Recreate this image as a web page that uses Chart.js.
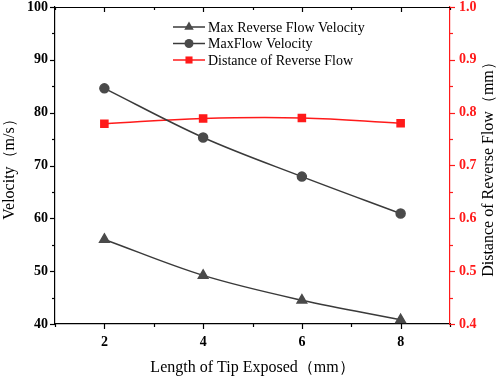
<!DOCTYPE html>
<html>
<head>
<meta charset="utf-8">
<script src="https://cdn.jsdelivr.net/npm/chart.js@4"></script>
<style>
  body { margin: 0; background: #fff; }
  #wrap { width: 498px; height: 377px; }
</style>
</head>
<body>
<div id="wrap"><canvas id="myChart" width="498" height="377"></canvas></div>
<script>
// data
const tipLength = [2, 4, 6, 8];
const maxReverseVelocity = [56.0, 49.2, 44.5, 40.8];
const maxFlowVelocity = [84.6, 75.3, 67.9, 60.9];
const reverseDistance = [0.779, 0.789, 0.790, 0.780];
const xTicks = [2, 4, 6, 8];

const serif = '"Liberation Serif", "Times New Roman", serif';
const red = '#ff1a1a';
const dark = '#3a3a3a';

function pts(ys) {
    return tipLength.map((x, i) => ({x: x, y: ys[i]}));
}

// ticks (major + minor) and the frame, like the original plot
const frame = {
    id: 'frame',
    afterDraw(chart) {
        const ctx = chart.ctx;
        const a = chart.chartArea;
        const xs = chart.scales.x, yl = chart.scales.y, yr = chart.scales.y2;
        ctx.save();
        ctx.lineWidth = 1.2;
        ctx.strokeStyle = '#000';
        // top border
        ctx.beginPath();
        ctx.moveTo(a.left, a.top + 0.5);
        ctx.lineTo(a.right, a.top + 0.5);
        ctx.stroke();
        // x ticks bottom (out) and top (in)
        for (let v = 1; v <= 9; v++) {
            const len = v % 2 === 0 ? 5 : 3;
            const px = Math.round(xs.getPixelForValue(v)) + 0.5;
            ctx.beginPath();
            ctx.moveTo(px, a.bottom); ctx.lineTo(px, a.bottom + len);
            ctx.moveTo(px, a.top); ctx.lineTo(px, a.top + len);
            ctx.stroke();
        }
        // left ticks
        for (let v = 40; v <= 100; v += 5) {
            const len = v % 10 === 0 ? 5 : 3;
            const py = Math.round(yl.getPixelForValue(v)) + 0.5;
            ctx.beginPath();
            ctx.moveTo(a.left, py); ctx.lineTo(a.left - len, py);
            ctx.stroke();
        }
        // right ticks (red)
        ctx.strokeStyle = red;
        for (let i = 0; i <= 12; i++) {
            const v = 0.4 + i * 0.05;
            const len = i % 2 === 0 ? 5 : 3;
            const py = Math.round(yr.getPixelForValue(v)) + 0.5;
            ctx.beginPath();
            ctx.moveTo(a.right, py); ctx.lineTo(a.right + len, py);
            ctx.stroke();
        }
        // right axis title, reads bottom to top
        ctx.fillStyle = '#000';
        ctx.font = '16px ' + serif;
        ctx.textAlign = 'center';
        ctx.textBaseline = 'middle';
        ctx.translate(489, (a.top + a.bottom) / 2);
        ctx.rotate(-Math.PI / 2);
        ctx.fillText('Distance of Reverse Flow（mm）', 0, 0);
        ctx.restore();

        // legend inside the plot
        ctx.save();
        ctx.font = '14px ' + serif;
        ctx.textBaseline = 'middle';
        chart.data.datasets.forEach((ds, i) => {
            const y = 27 + i * 16.5;
            ctx.strokeStyle = ds.borderColor;
            ctx.lineWidth = 1.5;
            ctx.beginPath();
            ctx.moveTo(173, y); ctx.lineTo(205, y);
            ctx.stroke();
            ctx.fillStyle = ds.pointBackgroundColor;
            Chart.helpers.drawPoint(ctx, {pointStyle: ds.pointStyle, radius: ds.pointRadius, borderWidth: 0}, 189, y);
            ctx.fillStyle = '#000';
            ctx.fillText(ds.label, 208, y + 1);
        });
        ctx.restore();
    }
};

// fixed axis sizes, no extra room for overhanging labels
function fixY(w) {
    return s => { s.width = w; s.paddingTop = 0; s.paddingBottom = 0; };
}

const ctx = document.getElementById('myChart').getContext('2d');
new Chart(ctx, {
    type: 'line',
    data: {
        datasets: [{
            label: 'Max Reverse Flow Velocity',
            data: pts(maxReverseVelocity),
            yAxisID: 'y',
            borderColor: dark,
            pointBackgroundColor: '#4a4a4a',
            pointBorderColor: '#4a4a4a',
            pointStyle: 'triangle',
            pointRadius: 5.5,
            borderWidth: 1.5,
            tension: 0.35
        }, {
            label: 'MaxFlow Velocity',
            data: pts(maxFlowVelocity),
            yAxisID: 'y',
            borderColor: dark,
            pointBackgroundColor: '#4a4a4a',
            pointBorderColor: '#4a4a4a',
            pointStyle: 'circle',
            pointRadius: 4.5,
            borderWidth: 1.5,
            tension: 0.35
        }, {
            label: 'Distance of Reverse Flow',
            data: pts(reverseDistance),
            yAxisID: 'y2',
            borderColor: red,
            pointBackgroundColor: red,
            pointBorderColor: red,
            pointStyle: 'rect',
            pointRadius: 5,
            borderWidth: 1.5,
            tension: 0.4
        }]
    },
    options: {
        responsive: false,
        animation: false,
        layout: { padding: { top: 6 } },
        plugins: {
            legend: { display: false },
            tooltip: { enabled: false }
        },
        scales: {
            x: {
                type: 'linear',
                min: 1, max: 9,
                afterFit: s => { s.height = 53; s.paddingLeft = 0; s.paddingRight = 0; },
                afterBuildTicks: s => { s.ticks = xTicks.map(v => ({value: v})); },
                grid: { display: false, drawTicks: false },
                border: { color: '#000', width: 1.2 },
                ticks: {
                    padding: 10,
                    color: '#000',
                    font: { family: serif, size: 14, weight: 'bold' }
                },
                title: {
                    display: true,
                    text: 'Length of Tip Exposed（mm）',
                    color: '#000',
                    font: { family: serif, size: 16 },
                    padding: { top: 4, bottom: 0 }
                }
            },
            y: {
                position: 'left',
                min: 40, max: 100,
                afterFit: fixY(55),
                grid: { display: false, drawTicks: false },
                border: { color: '#000', width: 1.2 },
                ticks: {
                    stepSize: 10,
                    padding: 7,
                    color: '#000',
                    font: { family: serif, size: 14, weight: 'bold' }
                },
                title: {
                    display: true,
                    text: 'Velocity（m/s）',
                    color: '#000',
                    font: { family: serif, size: 16 },
                    padding: { top: 0, bottom: 0 }
                }
            },
            y2: {
                position: 'right',
                min: 0.4, max: 1.0,
                afterFit: fixY(48),
                grid: { display: false, drawTicks: false },
                border: { color: red, width: 1.2 },
                ticks: {
                    stepSize: 0.1,
                    padding: 9,
                    color: red,
                    callback: v => v.toFixed(1),
                    font: { family: serif, size: 14, weight: 'bold' }
                }
            }
        }
    },
    plugins: [frame]
});
</script>
</body>
</html>
